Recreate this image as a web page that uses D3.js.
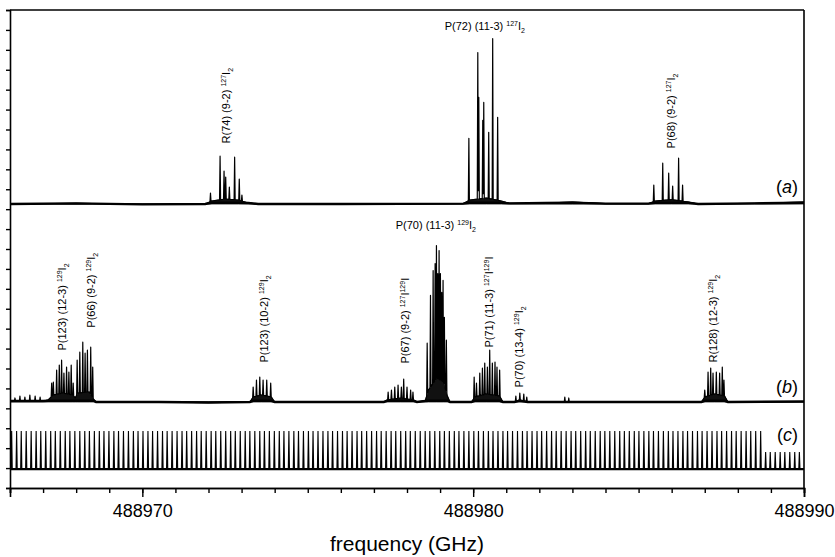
<!DOCTYPE html>
<html>
<head>
<meta charset="utf-8">
<script src="https://cdn.jsdelivr.net/npm/d3@7"></script>
<style>
body { margin: 0; background: #fff; }
svg { display: block; font-family: "Liberation Sans", Arial, sans-serif; }
</style>
</head>
<body>
<script>
var width = 835, height = 557;
var margin = {left: 10, right: 31, top: 10, bottom: 69};

// frequency axis (GHz)
var freqDomain = [488966, 488990];
var majorTicks = [488970, 488980, 488990];

// vertical offsets of the three traces (arb. units)
var offsetA = 14.26, offsetB = 4.32, offsetC = 0.95;

// trace (a): [frequency, peak height]
var peaksA = [
  [488972.06, 0.55], [488972.35, 2.40], [488972.47, 1.65], [488972.52, 1.35],
  [488972.63, 0.85], [488972.79, 2.35], [488972.93, 1.25], [488973.01, 0.45],
  [488979.87, 3.30], [488980.14, 7.60], [488980.17, 5.35], [488980.29, 4.20],
  [488980.32, 5.10], [488980.47, 3.60], [488980.59, 8.30], [488980.74, 4.35],
  [488985.46, 0.95], [488985.73, 2.05], [488985.91, 1.55], [488986.03, 0.90],
  [488986.21, 2.30], [488986.33, 0.95]
];
// trace (a) baseline: [frequency, level]
var baseA = [
  [488966.0, 0.0], [488968.0, 0.03], [488970.0, -0.02], [488971.9, 0.0],
  [488972.1, 0.15], [488972.5, 0.25], [488972.9, 0.2], [488973.2, 0.05],
  [488973.5, 0.0], [488976.0, 0.0], [488979.7, 0.02], [488979.9, 0.2],
  [488980.4, 0.3], [488980.85, 0.15], [488981.1, 0.03], [488982.2, 0.05],
  [488983.0, 0.1], [488984.0, 0.02], [488985.3, 0.02], [488985.5, 0.15],
  [488986.0, 0.22], [488986.5, 0.1], [488986.8, 0.0], [488988.5, 0.03],
  [488990.0, 0.1]
];

// trace (b)
var peaksB = [
  [488966.15, 0.20], [488966.30, 0.30], [488966.45, 0.25], [488966.60, 0.35],
  [488966.76, 0.30], [488966.91, 0.25],
  [488967.26, 0.95], [488967.31, 1.00], [488967.41, 1.60], [488967.49, 1.85],
  [488967.56, 2.10], [488967.63, 1.45], [488967.71, 1.75], [488967.78, 1.50],
  [488967.85, 1.85], [488967.91, 0.95],
  [488968.03, 2.10], [488968.11, 2.50], [488968.20, 3.00], [488968.27, 2.45],
  [488968.34, 2.60], [488968.44, 2.75], [488968.50, 1.75],
  [488973.35, 0.75], [488973.45, 1.10], [488973.55, 1.25], [488973.65, 1.10],
  [488973.76, 1.10], [488973.88, 0.95],
  [488977.43, 0.50], [488977.53, 0.60], [488977.63, 0.75], [488977.73, 0.85],
  [488977.83, 0.75], [488977.90, 1.15], [488978.00, 0.75], [488978.11, 0.60],
  [488978.18, 0.50],
  [488978.61, 2.95], [488978.71, 5.35], [488978.79, 6.60], [488978.85, 6.95],
  [488978.89, 7.85], [488978.93, 6.45], [488978.97, 7.60], [488979.01, 6.45],
  [488979.05, 5.50], [488979.09, 6.10], [488979.13, 4.25], [488979.19, 3.10],
  [488980.03, 1.25], [488980.10, 0.95], [488980.20, 1.45], [488980.28, 1.70],
  [488980.35, 1.95], [488980.43, 1.75], [488980.50, 2.60], [488980.58, 1.95],
  [488980.66, 2.00], [488980.72, 1.75], [488980.80, 1.60],
  [488981.29, 0.30], [488981.41, 0.45], [488981.53, 0.40], [488981.62, 0.25],
  [488982.77, 0.25], [488982.89, 0.20],
  [488987.00, 0.60], [488987.10, 1.50], [488987.18, 1.70], [488987.25, 1.45],
  [488987.35, 1.50], [488987.45, 1.45], [488987.53, 1.75], [488987.58, 1.10]
];
var baseB = [
  [488966.0, 0.05], [488967.0, 0.05], [488967.15, 0.1], [488967.3, 0.35],
  [488967.6, 0.45], [488967.9, 0.35], [488967.97, 0.2], [488968.05, 0.45],
  [488968.4, 0.5], [488968.52, 0.15], [488968.6, 0.0], [488970.5, 0.0],
  [488972.0, -0.03], [488973.25, 0.0], [488973.35, 0.25], [488973.6, 0.35],
  [488973.9, 0.25], [488974.0, 0.0], [488977.3, 0.0], [488977.4, 0.1],
  [488977.8, 0.2], [488978.2, 0.1], [488978.3, 0.0], [488978.55, 0.05],
  [488978.65, 0.6], [488978.9, 1.2], [488979.1, 1.0], [488979.22, 0.3],
  [488979.3, 0.0], [488979.95, 0.0], [488980.05, 0.25], [488980.4, 0.4],
  [488980.8, 0.3], [488980.9, 0.0], [488981.25, 0.0], [488981.4, 0.1],
  [488981.65, 0.0], [488984.0, 0.0], [488986.9, 0.0], [488987.0, 0.25],
  [488987.3, 0.4], [488987.6, 0.3], [488987.7, 0.0], [488990.0, 0.02]
];

// trace (c): transmission comb, tooth positions in GHz above combBase
var combBase = 488966;
var combTeeth = [
  0.05, 0.20, 0.34, 0.49, 0.64, 0.79, 0.93, 1.08, 1.23, 1.37, 1.52, 1.67, 1.81, 1.96,
  2.11, 2.26, 2.40, 2.55, 2.70, 2.84, 2.99, 3.14, 3.28, 3.43, 3.58, 3.73, 3.87, 4.02,
  4.17, 4.31, 4.46, 4.61, 4.75, 4.90, 5.05, 5.20, 5.34, 5.49, 5.64, 5.78, 5.93, 6.08,
  6.22, 6.37, 6.52, 6.67, 6.81, 6.96, 7.11, 7.25, 7.40, 7.55, 7.69, 7.84, 7.99, 8.14,
  8.28, 8.43, 8.58, 8.72, 8.87, 9.02, 9.16, 9.31, 9.46, 9.61, 9.75, 9.90, 10.05, 10.19,
  10.34, 10.49, 10.63, 10.78, 10.93, 11.08, 11.22, 11.37, 11.52, 11.66, 11.81, 11.96,
  12.10, 12.25, 12.40, 12.55, 12.69, 12.84, 12.99, 13.13, 13.28, 13.43, 13.57, 13.72,
  13.87, 14.02, 14.16, 14.31, 14.46, 14.60, 14.75, 14.90, 15.04, 15.19, 15.34, 15.49,
  15.63, 15.78, 15.93, 16.07, 16.22, 16.37, 16.51, 16.66, 16.81, 16.96, 17.10, 17.25,
  17.40, 17.54, 17.69, 17.84, 17.98, 18.13, 18.28, 18.43, 18.57, 18.72, 18.87, 19.01,
  19.16, 19.31, 19.45, 19.60, 19.75, 19.90, 20.04, 20.19, 20.34, 20.48, 20.63, 20.78,
  20.92, 21.07, 21.22, 21.37, 21.51, 21.66, 21.81, 21.95, 22.10, 22.25, 22.39, 22.54,
  22.69, 22.84, 22.98, 23.13, 23.28, 23.42, 23.57, 23.72, 23.86
];
var combTall = 1.91, combShort = 0.86, combShortFrom = 22.8;

// line assignments
var labels = [
  {f: 488972.66, y: 17.3, rot: true, main: "R(74) (9-2) ", chem: [["127", "sup"], ["I", "n"], ["2", "sub"]]},
  {f: 488979.14, y: 23.0, rot: false, main: "P(72) (11-3) ", chem: [["127", "sup"], ["I", "n"], ["2", "sub"]]},
  {f: 488986.09, y: 17.05, rot: true, main: "P(68) (9-2) ", chem: [["127", "sup"], ["I", "n"], ["2", "sub"]]},
  {f: 488967.69, y: 6.9, rot: true, main: "P(123) (12-3) ", chem: [["129", "sup"], ["I", "n"], ["2", "sub"]]},
  {f: 488968.57, y: 8.05, rot: true, main: "P(66) (9-2) ", chem: [["129", "sup"], ["I", "n"], ["2", "sub"]]},
  {f: 488973.79, y: 6.3, rot: true, main: "P(123) (10-2) ", chem: [["129", "sup"], ["I", "n"], ["2", "sub"]]},
  {f: 488977.66, y: 13.0, rot: false, main: "P(70) (11-3) ", chem: [["129", "sup"], ["I", "n"], ["2", "sub"]]},
  {f: 488978.05, y: 6.25, rot: true, main: "P(67) (9-2) ", chem: [["127", "sup"], ["I", "n"], ["129", "sup"], ["I", "n"]]},
  {f: 488980.59, y: 7.05, rot: true, main: "P(71) (11-3) ", chem: [["127", "sup"], ["I", "n"], ["129", "sup"], ["I", "n"]]},
  {f: 488981.50, y: 5.05, rot: true, main: "P(70) (13-4) ", chem: [["129", "sup"], ["I", "n"], ["2", "sub"]]},
  {f: 488987.36, y: 6.3, rot: true, main: "R(128) (12-3) ", chem: [["129", "sup"], ["I", "n"], ["2", "sub"]]}
];
var panels = [["a", offsetA + 0.55], ["b", offsetB + 0.45], ["c", offsetC + 1.4]];

var svg = d3.select("body").append("svg")
  .attr("width", width).attr("height", height);

var x = d3.scaleLinear().domain(freqDomain).range([margin.left, width - margin.right]);
var y = d3.scaleLinear().domain([0, 24]).range([height - margin.bottom, margin.top]);

svg.append("clipPath").attr("id", "plotclip").append("rect")
  .attr("x", margin.left).attr("y", margin.top)
  .attr("width", width - margin.left - margin.right)
  .attr("height", height - margin.top - margin.bottom);

var plot = svg.append("g").attr("clip-path", "url(#plotclip)");

function tracePoints(peaks, base, w) {
  var baseScale = d3.scaleLinear().domain(base.map(function(d) { return d[0]; }))
    .range(base.map(function(d) { return d[1]; }));
  var fs = base.map(function(d) { return d[0]; });
  peaks.forEach(function(p) { fs.push(p[0] - w, p[0], p[0] + w); });
  fs.sort(d3.ascending);
  return fs.map(function(f) {
    var v = baseScale(f);
    peaks.forEach(function(p) {
      var dd = Math.abs(f - p[0]);
      if (dd < w) v = Math.max(v, p[1] * (1 - dd / w));
    });
    return [f, v];
  });
}

function drawTrace(peaks, base, offset) {
  var line = d3.line()
    .x(function(d) { return x(d[0]); })
    .y(function(d) { return y(offset + d[1]); });
  // dense noise under the line clusters
  var area = d3.area()
    .x(function(d) { return x(d[0]); })
    .y0(y(offset))
    .y1(function(d) { return y(offset + Math.max(d[1], 0)); });
  plot.append("path").attr("d", area(base))
    .attr("fill", "#111").attr("stroke", "#111").attr("stroke-width", 0.8);
  // noisy baseline band
  var flat = base.map(function(d) { return [d[0], Math.min(d[1], 0.06)]; });
  plot.append("path").attr("d", line(flat))
    .attr("fill", "none").attr("stroke", "#000").attr("stroke-width", 2.4);
  plot.append("path").attr("d", line(tracePoints(peaks, base, 0.016)))
    .attr("fill", "none").attr("stroke", "#000").attr("stroke-width", 1.2)
    .attr("stroke-linejoin", "round");
}

drawTrace(peaksA, baseA, offsetA);
drawTrace(peaksB, baseB, offsetB);

// comb
var combPts = [];
combTeeth.forEach(function(t) {
  var h = t >= combShortFrom ? combShort : combTall;
  combPts.push([combBase + t - 0.018, 0], [combBase + t, h], [combBase + t + 0.018, 0]);
});
var combLine = d3.line()
  .x(function(d) { return x(d[0]); })
  .y(function(d) { return y(offsetC + d[1]); });
plot.append("path").attr("d", combLine([[freqDomain[0], 0], [freqDomain[1], 0]]))
  .attr("fill", "none").attr("stroke", "#000").attr("stroke-width", 2.2);
plot.append("path").attr("d", combLine(combPts))
  .attr("fill", "none").attr("stroke", "#000").attr("stroke-width", 1.1);

// labels
labels.forEach(function(d) {
  var t = svg.append("text")
    .attr("transform", "translate(" + x(d.f) + "," + y(d.y) + ")" + (d.rot ? " rotate(-90)" : ""))
    .attr("font-size", 11).attr("fill", "#000");
  t.append("tspan").text(d.main);
  var cur = 0;
  d.chem.forEach(function(p) {
    var s = p[1] == "sup" ? -4 : (p[1] == "sub" ? 3 : 0);
    t.append("tspan").attr("dy", s - cur)
      .attr("font-size", p[1] == "n" ? 11 : 7).text(p[0]);
    cur = s;
  });
});

panels.forEach(function(p) {
  var t = svg.append("text")
    .attr("x", x(freqDomain[1]) - 6).attr("y", y(p[1]))
    .attr("text-anchor", "end").attr("font-size", 18);
  t.append("tspan").text("(");
  t.append("tspan").attr("font-style", "italic").text(p[0]);
  t.append("tspan").text(")");
});

// axes
var yAxis = svg.append("g").attr("transform", "translate(" + margin.left + ",0)")
  .call(d3.axisLeft(y).ticks(24).tickSize(4).tickFormat(""));
var xMinor = svg.append("g").attr("transform", "translate(0," + (height - margin.bottom) + ")")
  .call(d3.axisBottom(x).ticks(24).tickSize(5).tickFormat(""));
var xMajor = svg.append("g").attr("transform", "translate(0," + (height - margin.bottom) + ")")
  .call(d3.axisBottom(x).tickValues(majorTicks).tickSize(9).tickPadding(7).tickFormat(d3.format("d")));
xMajor.selectAll("text").attr("font-size", 18).attr("fill", "#000")
  .attr("font-family", "Liberation Sans, Arial, sans-serif");
svg.selectAll(".domain").attr("stroke-width", 1.6);
svg.selectAll(".tick line").attr("stroke-width", 1.4);

svg.append("line").attr("x1", margin.left).attr("x2", width - margin.right)
  .attr("y1", margin.top).attr("y2", margin.top)
  .attr("stroke", "#000").attr("stroke-width", 1.6);
svg.append("line").attr("x1", width - margin.right).attr("x2", width - margin.right)
  .attr("y1", margin.top).attr("y2", height - margin.bottom)
  .attr("stroke", "#000").attr("stroke-width", 1.6);

svg.append("text")
  .attr("x", (x.range()[0] + x.range()[1]) / 2).attr("y", 551)
  .attr("text-anchor", "middle").attr("font-size", 21)
  .text("frequency (GHz)");
</script>
</body>
</html>
